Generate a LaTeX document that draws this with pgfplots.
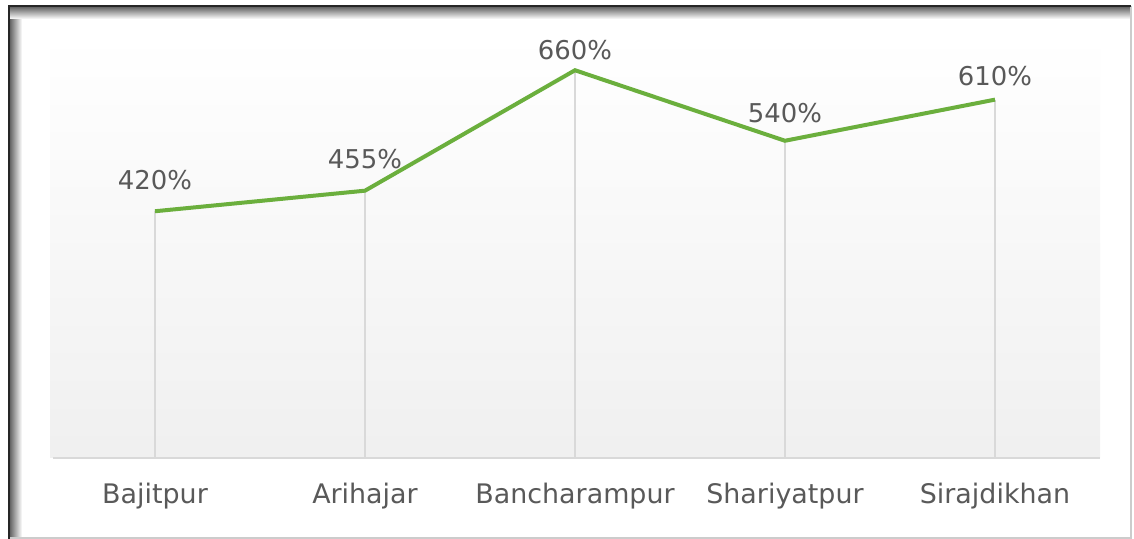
\documentclass[border=0pt]{standalone}
\usepackage{pgfplots}
\pgfplotsset{compat=1.18}
\usepackage{fontspec}
\setmainfont{DejaVu Sans}
\definecolor{txt}{HTML}{595959}
\definecolor{lgreen}{HTML}{6BAF3D}
\definecolor{gridc}{HTML}{D9D9D9}
\begin{document}
\begin{tikzpicture}
\path[use as bounding box] (0bp,0bp) rectangle (567bp,269.5bp);
\fill[white] (0bp,0bp) rectangle (567bp,269.5bp);
% frame shadow
\shade[left color=black!60, right color=white] (5bp,0.5bp) rectangle (11bp,266bp);
\shade[top color=black!60, bottom color=white] (5bp,260bp) rectangle (565bp,266bp);
\fill[white] (11bp,0.5bp) rectangle (565bp,260bp);
\draw[black!20, line width=0.8bp] (4.5bp,0.4bp) -- (565.5bp,0.4bp) -- (565.5bp,266.5bp);
\draw[black!85, line width=1.4bp] (4.5bp,0bp) -- (4.5bp,266.5bp) -- (565.5bp,266.5bp);
\begin{axis}[
  at={(25bp,40.5bp)}, anchor=south west,
  scale only axis, width=525bp, height=211.5bp,
  xmin=-0.5, xmax=4.5, ymin=0, ymax=720,
  axis x line*=bottom, axis y line=none,
  axis line style={gridc, line width=0.7bp, -},
  x axis line style={shorten <=1.5bp},
  xtick={0,1,2,3,4},
  xticklabels={Bajitpur,Arihajar,Bancharampur,Shariyatpur,Sirajdikhan},
  major tick length=0pt,
  ytick=\empty,
  xticklabel style={font=\fontsize{13.5}{16}\selectfont, text=txt, yshift=-9bp},
  axis background/.style={shade, top color=white, bottom color=black!6},
  /pgf/number format/assume math mode=true,
  clip=false,
]
\addplot[ycomb, draw=gridc, line width=0.6bp, mark=none] coordinates {(0,420) (1,455) (2,660) (3,540) (4,610)};
\addplot[lgreen, line width=2bp, mark=none,
  visualization depends on={\thisrow{s}\as\myshift},
  nodes near coords={\pgfmathprintnumber[fixed,assume math mode=true]{\pgfplotspointmeta}\%},
  every node near coord/.append style={font=\fontsize{13}{15}\selectfont, text=txt, anchor=south, inner sep=1bp, yshift=\myshift bp}]
  table[x=x, y=y] {
  x y s
  0 420 8.5
  1 455 9
  2 660 3
  3 540 7
  4 610 5
  };
\end{axis}
\end{tikzpicture}
\end{document}
